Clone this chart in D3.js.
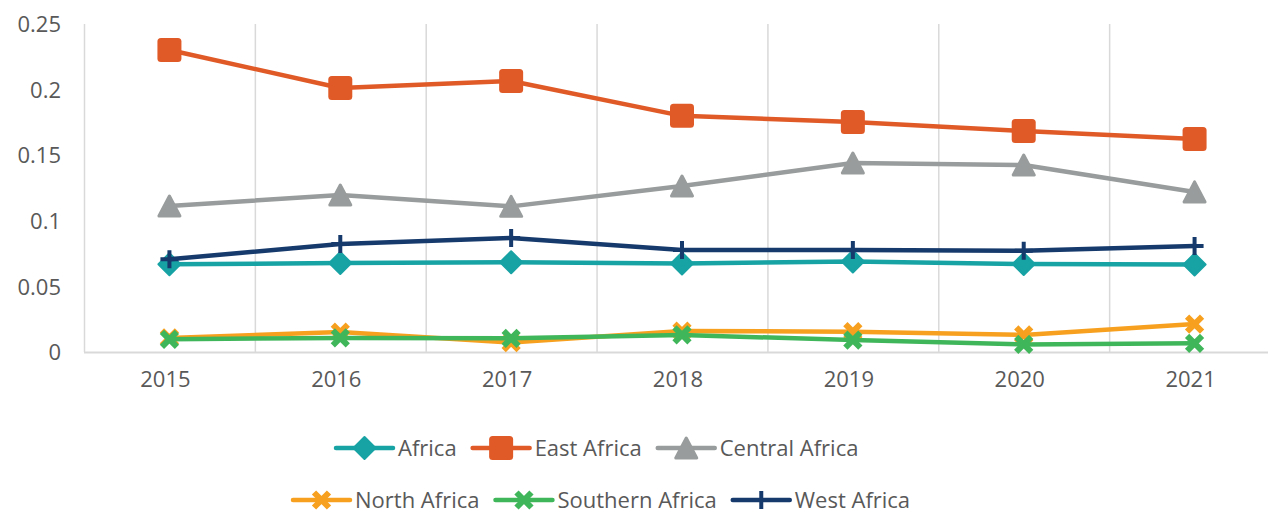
<!DOCTYPE html>
<html>
<head>
<meta charset="utf-8">
<script src="https://cdn.jsdelivr.net/npm/d3@7"></script>
<style>
  body { margin: 0; background: #fff; }
  svg { display: block; font-family: "Open Sans", sans-serif; }
</style>
</head>
<body>
<svg id="chart" width="1268" height="515"></svg>
<script>
// data
var years = ["2015", "2016", "2017", "2018", "2019", "2020", "2021"];
var yTicks = [0, 0.05, 0.1, 0.15, 0.2, 0.25];
var tickLabels = ["0", "0.05", "0.1", "0.15", "0.2", "0.25"];

var seriesNames = ["Africa", "East Africa", "Central Africa", "North Africa", "Southern Africa", "West Africa"];
var africa   = [0.0669, 0.0678, 0.0684, 0.0675, 0.0690, 0.0671, 0.0667];
var eastAf   = [0.2302, 0.2012, 0.2066, 0.1800, 0.1753, 0.1684, 0.1623];
var centralAf= [0.1113, 0.1197, 0.1110, 0.1265, 0.1440, 0.1425, 0.1220];
var northAf  = [0.0107, 0.0152, 0.0072, 0.0160, 0.0155, 0.0130, 0.0213];
var southAf  = [0.0097, 0.0107, 0.0104, 0.0130, 0.0091, 0.0058, 0.0066];
var westAf   = [0.0707, 0.0823, 0.0869, 0.0777, 0.0777, 0.0772, 0.0808];

var colors = ["#17A2A4", "#E05A27", "#999C9C", "#F7A01F", "#40B65A", "#163A6C"];
var shapes = ["diamond", "square", "triangle", "x", "x", "plus"];

var series = [africa, eastAf, centralAf, northAf, southAf, westAf].map(function(v, i) {
  return { name: seriesNames[i], values: v, color: colors[i], shape: shapes[i] };
});
// draw order: later ones on top (West Africa, then Southern over North)
var drawOrder = [2, 1, 0, 5, 3, 4];

var svg = d3.select("#chart");
var textColor = "#595959";

var x = d3.scaleBand().domain(years).range([84, 1280]);
var y = d3.scaleLinear().domain([0, 0.25]).range([352, 24]);

// vertical gridlines at band edges
var edges = years.map(function(d) { return x(d); });
svg.append("g").selectAll("line")
  .data(edges)
  .enter().append("line")
    .attr("x1", function(d) { return d + 0.5; })
    .attr("x2", function(d) { return d + 0.5; })
    .attr("y1", y(0.25))
    .attr("y2", y(0))
    .attr("stroke", "#d9d9d9")
    .attr("stroke-width", 1.5);

// baseline
svg.append("line")
  .attr("x1", 84).attr("x2", 1280)
  .attr("y1", y(0) + 0.5).attr("y2", y(0) + 0.5)
  .attr("stroke", "#d9d9d9")
  .attr("stroke-width", 2);

// y labels
var yAxis = d3.axisLeft(y).tickValues(yTicks).tickSize(0).tickPadding(0)
  .tickFormat(function(d, i) { return tickLabels[i]; });
var gy = svg.append("g").attr("transform", "translate(61,0)").call(yAxis);
gy.select(".domain").remove();
gy.selectAll("text")
  .attr("font-family", "Open Sans, sans-serif")
  .attr("font-size", 22)
  .attr("fill", textColor)
  .attr("dy", "0.35em");

// x labels
var xAxis = d3.axisBottom(x).tickSize(0).tickPadding(0);
var gx = svg.append("g").attr("transform", "translate(-4,371)").call(xAxis);
gx.select(".domain").remove();
gx.selectAll("text")
  .attr("font-family", "Open Sans, sans-serif")
  .attr("font-size", 22)
  .attr("fill", textColor)
  .attr("dy", "0.71em");

function drawMarker(g, shape, color) {
  if (shape == "square") {
    g.append("rect").attr("x", -12).attr("y", -12).attr("width", 24).attr("height", 24)
      .attr("rx", 3.5).attr("fill", color);
  } else if (shape == "diamond") {
    g.append("path").attr("d", "M0,-11L11,0L0,11L-11,0Z")
      .attr("fill", color).attr("stroke", color).attr("stroke-width", 2).attr("stroke-linejoin", "round");
  } else if (shape == "triangle") {
    g.append("path").attr("d", "M0,-10L10.5,10L-10.5,10Z")
      .attr("fill", color).attr("stroke", color).attr("stroke-width", 3).attr("stroke-linejoin", "round");
  } else if (shape == "x") {
    g.append("path").attr("d", "M-7.5,-7.5L7.5,7.5M7.5,-7.5L-7.5,7.5")
      .attr("stroke", color).attr("stroke-width", 6).attr("fill", "none");
  } else if (shape == "plus") {
    g.append("path").attr("d", "M0,-9L0,9M-9,0L9,0")
      .attr("stroke", color).attr("stroke-width", 4).attr("fill", "none");
  }
}

var line = d3.line()
  .x(function(d, i) { return x(years[i]) + x.bandwidth() / 2; })
  .y(function(d) { return y(d); });

drawOrder.forEach(function(si) {
  var s = series[si];
  var g = svg.append("g").attr("class", "series");
  g.append("path")
    .datum(s.values)
    .attr("d", line)
    .attr("fill", "none")
    .attr("stroke", s.color)
    .attr("stroke-width", 4.5)
    .attr("stroke-linejoin", "round");
  g.selectAll("g.mk")
    .data(s.values)
    .enter().append("g")
      .attr("class", "mk")
      .attr("transform", function(d, i) {
        return "translate(" + (x(years[i]) + x.bandwidth() / 2) + "," + y(d) + ")";
      })
      .each(function() { drawMarker(d3.select(this), s.shape, s.color); });
});

// legend
var legendRows = [
  { items: [0, 1, 2], x: 336, y: 448 },
  { items: [3, 4, 5], x: 293, y: 500 }
];
legendRows.forEach(function(row) {
  var cx = row.x;
  row.items.forEach(function(si) {
    var s = series[si];
    var g = svg.append("g").attr("transform", "translate(" + cx + "," + row.y + ")");
    g.append("line").attr("x1", 0).attr("x2", 57).attr("y1", 0).attr("y2", 0)
      .attr("stroke", s.color).attr("stroke-width", 4.5).attr("stroke-linecap", "round");
    var m = g.append("g").attr("transform", "translate(28.5,0)");
    drawMarker(m, s.shape, s.color);
    var t = g.append("text")
      .attr("x", 62).attr("y", 0).attr("dy", "0.35em")
      .attr("font-size", 22)
      .attr("fill", textColor)
      .text(s.name);
    cx += 62 + t.node().getComputedTextLength() + 16;
  });
});
</script>
</body>
</html>
